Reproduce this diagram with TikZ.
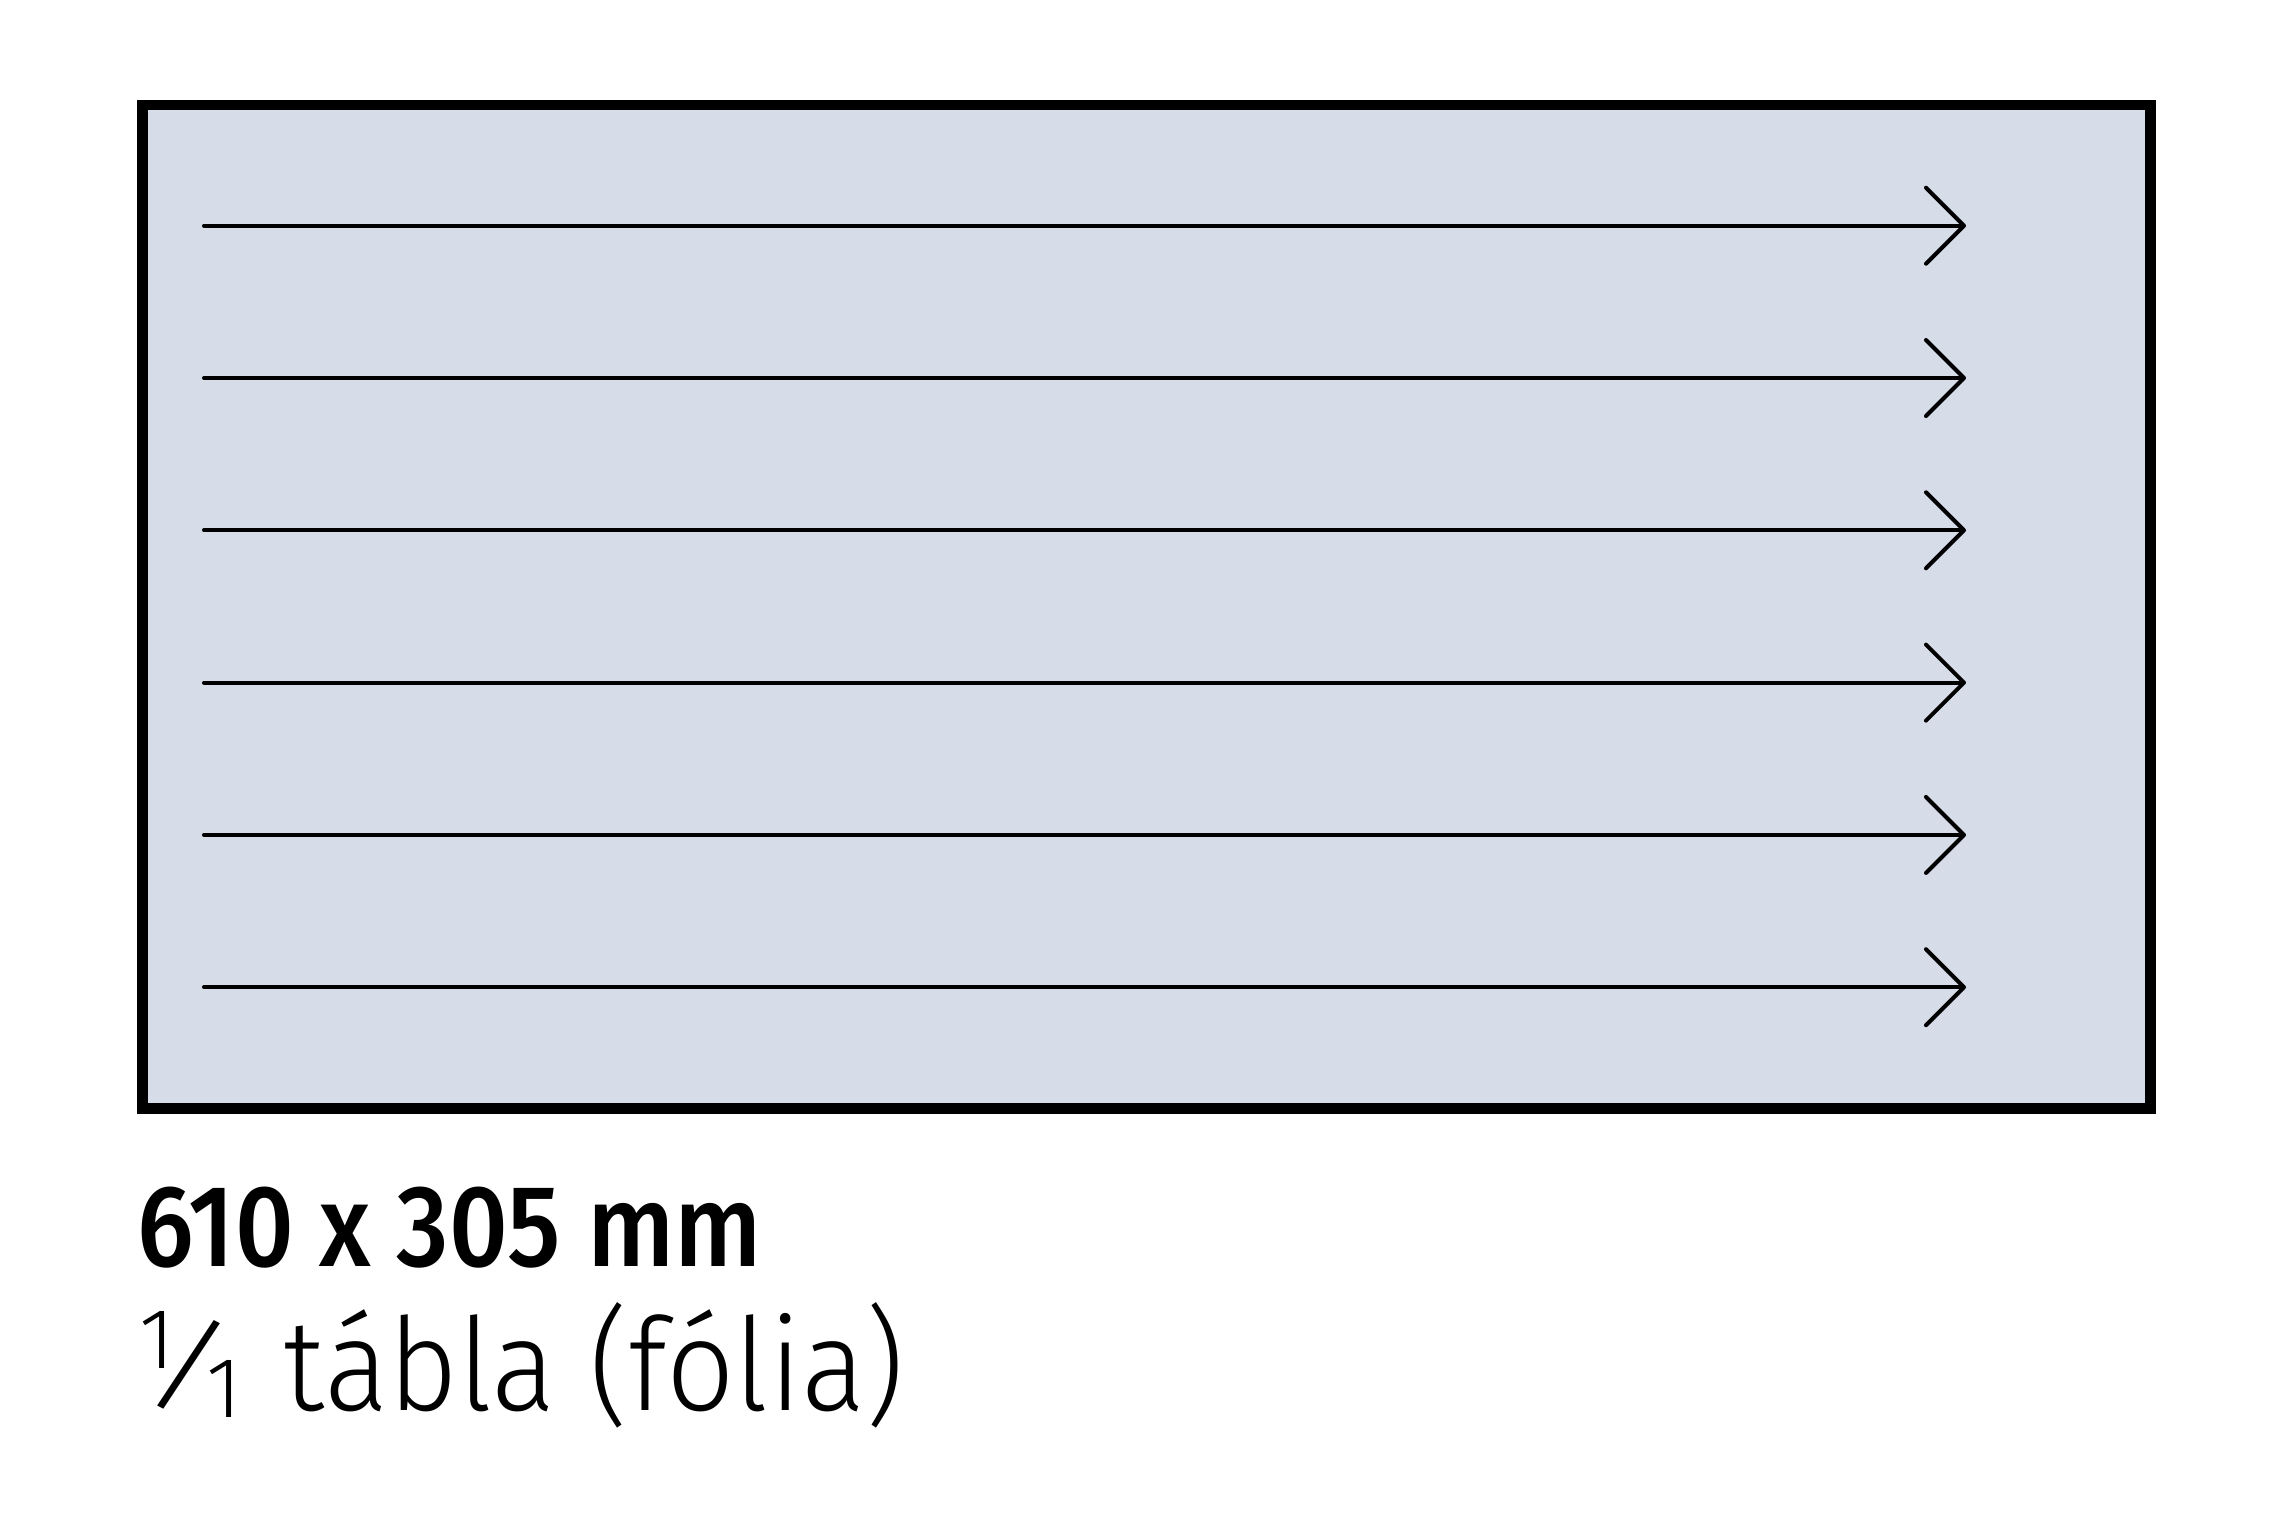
\documentclass[tikz,border=0pt]{standalone}
\usepackage{fontspec}
\usepackage{graphicx}
\usetikzlibrary{arrows.meta}
\setmainfont{Fira Sans}
\newfontfamily\fmed{Fira Sans Medium}
\newfontfamily\flight{Fira Sans Light}
\definecolor{panel}{RGB}{215,221,232}
\tikzset{
  board/.style={draw=black, fill=panel, line width=3.05pt, line join=miter},
  arr/.style={line width=1.15pt, line cap=round, -{Straight Barb[length=3.8mm, width=7.6mm, line join=round, line cap=round]}},
  lbl/.style={inner sep=0pt, anchor=base west}
}
\begin{document}
\begin{tikzpicture}[x=0.1mm, y=-0.1mm]
\useasboundingbox (0,0) rectangle (2293,1525);
\draw[board] (142.5,105) rectangle (2150.5,1108.5);
\foreach \i/\y in {1/225.7, 2/378, 3/530.3, 4/682.6, 5/834.9, 6/987.2}{
  \coordinate (s\i) at (204,\y);
  \coordinate (e\i) at (1966,\y);
  \draw[arr] (s\i) -- (e\i);
}
\node[lbl] (size) at (137,1266) {\resizebox{62.4mm}{7.95mm}{\fmed 610 x 305 mm}};
\node[lbl] (num) at (139,1368) {\flight\fontsize{24.4pt}{26pt}\selectfont 1};
\node[inner sep=0pt, anchor=center, rotate=-15.5] (slash) at (189,1364.5) {\resizebox*{7.1mm}{9.9mm}{\flight /}};
\node[lbl] (den) at (206,1417) {\flight\fontsize{24.4pt}{26pt}\selectfont 1};
\node[lbl] (kind) at (283,1410) {\resizebox{62.1mm}{\height}{\flight\fontsize{36.7pt}{40pt}\selectfont tábla (fólia)}};
\end{tikzpicture}
\end{document}
